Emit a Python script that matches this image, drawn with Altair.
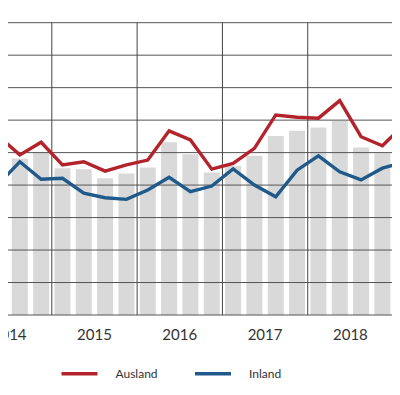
import altair as alt
import pandas as pd

# ---- data (units: gridline steps of 10) ----
quarters = ["2014-Q2", "2014-Q3", "2014-Q4",
            "2015-Q1", "2015-Q2", "2015-Q3", "2015-Q4",
            "2016-Q1", "2016-Q2", "2016-Q3", "2016-Q4",
            "2017-Q1", "2017-Q2", "2017-Q3", "2017-Q4",
            "2018-Q1", "2018-Q2", "2018-Q3", "2018-Q4",
            "2019-Q1"]
total = [None, 48.2, 50.1,
         45.2, 44.9, 42.1, 43.6,
         45.4, 53.2, 49.5, 43.9,
         45.9, 49.0, 55.1, 56.7,
         57.7, 59.8, 51.6, 49.8,
         None]
ausland = [55.1, 49.3, 53.2,
           46.2, 47.2, 44.3, 46.2,
           47.7, 56.7, 53.9, 44.9,
           46.7, 51.3, 61.6, 60.9,
           60.6, 66.0, 54.9, 52.1,
           58.5]
inland = [40.3, 47.2, 41.8,
          42.1, 37.5, 36.1, 35.6,
          38.5, 42.4, 38.0, 39.7,
          45.0, 40.0, 36.4, 44.6,
          49.0, 44.1, 41.6, 45.2,
          47.0]
series_names = ["Total", "Ausland", "Inland"]
series_colors = ["#d9d9d9", "#b3232b", "#1f5a8b"]
year_labels = [2014, 2015, 2016, 2017, 2018]
year_lines = [2015, 2016, 2017, 2018, 2019]
y_grid = [0, 10, 20, 30, 40, 50, 60, 70, 80, 90]


def qpos(q):
    y, k = q.split("-Q")
    return int(y) + (int(k) - 1) * 0.25 + 0.125


rows = []
for q, tv, av, iv in zip(quarters, total, ausland, inland):
    t = qpos(q)
    rows.append({"quarter": q, "t": t, "series": "Ausland", "value": av, "kind": "line"})
    rows.append({"quarter": q, "t": t, "series": "Inland", "value": iv, "kind": "line"})
    if tv is not None:
        rows.append({"quarter": q, "t": t, "series": "Total", "value": tv, "kind": "bar"})
df = pd.DataFrame(rows)
df_bar = df[df.kind == "bar"]
df_line = df[df.kind == "line"]

df_grid = pd.DataFrame({"v": y_grid})
df_years = pd.DataFrame({"t": year_lines})
df_labels = pd.DataFrame({"t": [y + 0.5 for y in year_labels],
                          "label": [str(y) for y in year_labels]})

x_dom = [2014.4514, 2019.0229]
quarter_bounds = [y + k * 0.25 for y in range(2014, 2020) for k in range(4)
                  if x_dom[0] <= y + k * 0.25 <= x_dom[1]]

xscale = alt.Scale(domain=x_dom, nice=False, zero=False)
yscale = alt.Scale(domain=[0, 90], nice=False, zero=True)
cscale = alt.Scale(domain=series_names, range=series_colors)

x_axis = alt.Axis(values=quarter_bounds, labels=False, tickSize=7,
                  tickColor="#444444", domainColor="#444444", grid=False,
                  title=None, tickWidth=1, domainWidth=1)

bars = alt.Chart(df_bar).mark_bar(size=16, color="#d9d9d9").encode(
    x=alt.X("t:Q", scale=xscale, axis=x_axis),
    y=alt.Y("value:Q", scale=yscale, axis=None),
)

hgrid = alt.Chart(df_grid).mark_rule(color="#555555", strokeWidth=1).encode(
    y=alt.Y("v:Q", scale=yscale, axis=None)
)

vgrid = alt.Chart(df_years).mark_rule(color="#444444", strokeWidth=1).encode(
    x=alt.X("t:Q", scale=xscale, axis=None)
)

lines = alt.Chart(df_line).mark_line(strokeWidth=3.4).encode(
    x=alt.X("t:Q", scale=xscale, axis=None),
    y=alt.Y("value:Q", scale=yscale, axis=None),
    color=alt.Color("series:N", scale=cscale, legend=alt.Legend(
        orient="none", legendX=-74, legendY=331, direction="horizontal",
        symbolType="stroke", symbolSize=1296, symbolStrokeWidth=3.5,
        labelFont="Lato", labelFontSize=12, labelColor="#333333",
        labelOffset=16, columnPadding=29.5, gridAlign="all", title=None,
        padding=0)),
)

labels = alt.Chart(df_labels).mark_text(
    font="Lato", fontSize=15, color="#333333", baseline="middle", align="center"
).encode(
    x=alt.X("t:Q", scale=xscale, axis=None),
    y=alt.value(312.3),
    text="label:N",
)

chart = alt.layer(bars, hgrid, vgrid, lines, labels).properties(
    width=400, height=292.3,
    padding={"left": -8, "top": 14.7, "right": -8, "bottom": 72},
    autosize=alt.AutoSizeParams(type="none"),
).configure_view(stroke=None)

chart.save("out.html", embed_options={"renderer": "svg", "actions": False})
